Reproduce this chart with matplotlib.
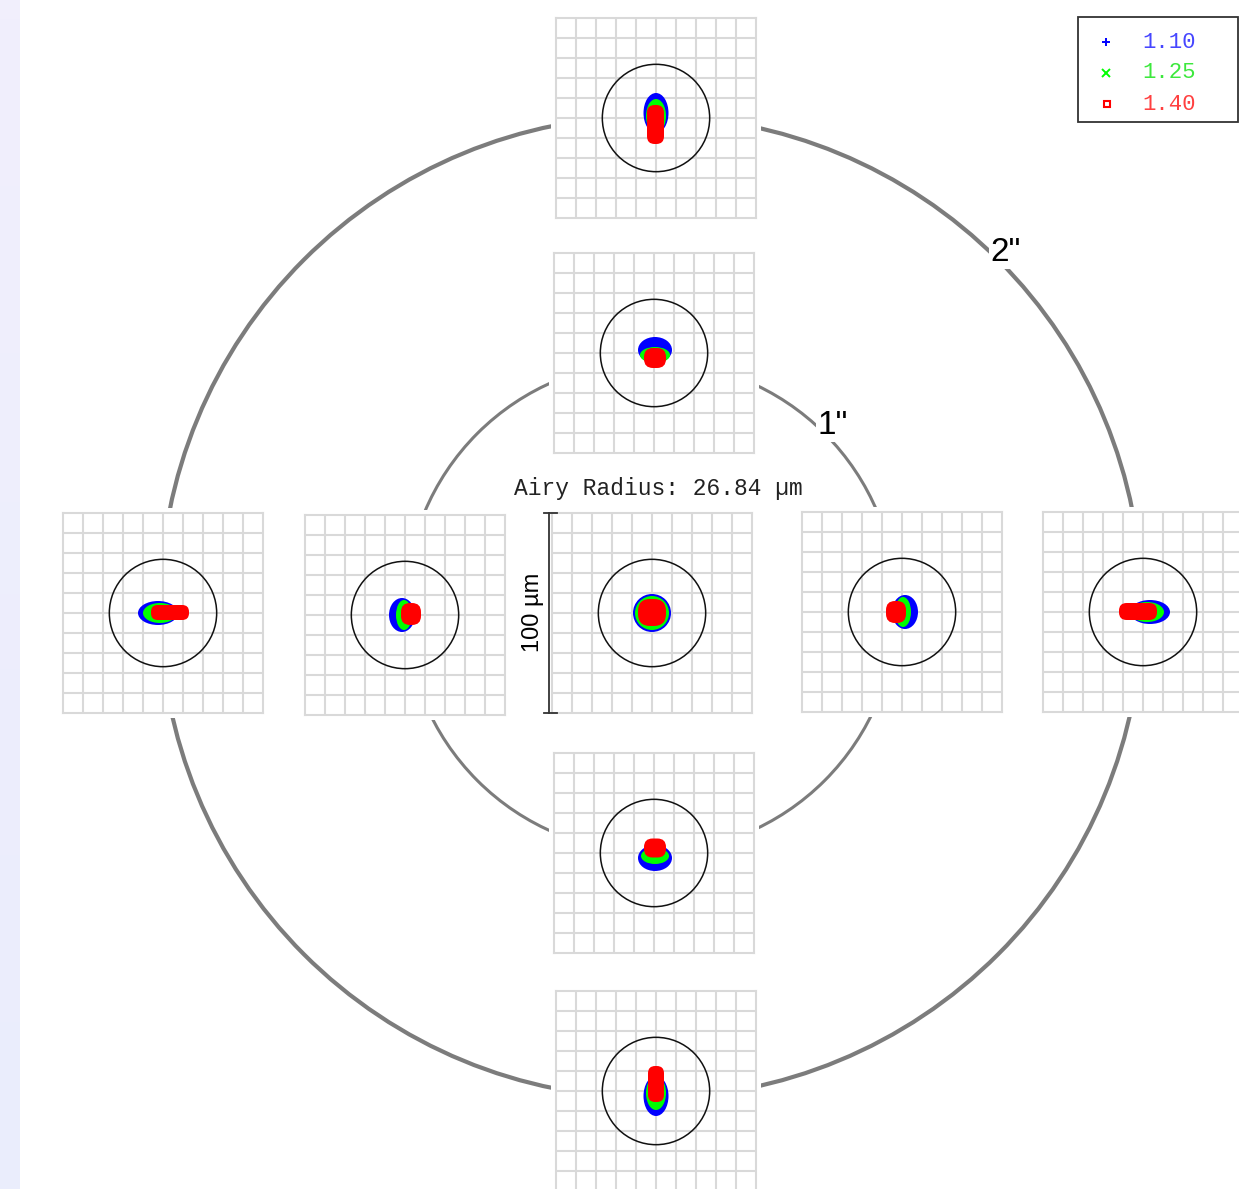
import numpy as np
import matplotlib
matplotlib.use("Agg")
import matplotlib.pyplot as plt
from matplotlib.patches import Ellipse, FancyBboxPatch, Circle, Rectangle

W, H, DPI = 1239, 1189, 100

# ---- data -------------------------------------------------------------
field_names = ["0,0", "0,+2", "0,+1", "0,-1", "0,-2", "-2,0", "-1,0", "+1,0", "+2,0"]
field_x_arcsec = [0, 0, 0, 0, 0, -2, -1, 1, 2]
field_y_arcsec = [0, 2, 1, -1, -2, 0, 0, 0, 0]
ring_radii_arcsec = [1, 2]
ring_labels = ['1"', '2"']

wavelength_labels = ["1.10", "1.25", "1.40"]
airy_radius_um = 26.84
box_size_um = 100
grid_step_um = 10

# spot footprints (µm): centroid offset and full extent per field
blue_dx = [0, 0, 0.5, 0.5, 0, -2.5, -1.5, 1.5, 3.5]
blue_dy = [0, 2.5, 1.5, -2.5, -2.5, 0, 0, 0, 0]
blue_w = [19, 12.5, 17, 17, 12.5, 20, 13, 13, 20]
blue_h = [19, 20, 13, 13, 20, 12, 17, 17, 12]

green_dx = [0, 0, 0.5, 0.5, 0, -1.5, -0.5, 0.5, 2]
green_dy = [0, 1, -1, -1.5, -1, 0, 0, 0, 0]
green_w = [17, 10, 15, 14, 10, 17, 8, 8, 17]
green_h = [17, 17, 8, 8, 17, 10, 15, 15, 10]

red_dx = [0, -0.25, 0.5, 0.5, 0, 3.5, 3, -3, -2.5]
red_dy = [0.25, -3.25, -2.5, 2.5, 3.5, 0.25, 0.5, 0, 0.25]
red_w = [14, 8.5, 11, 11, 8, 19, 10, 10, 19]
red_h = [13.5, 19.5, 10, 9.5, 18, 7.5, 11, 11, 8.5]

# ---- layout -------------------------------------------------------------
panel_centers_px = [(652, 613), (656, 118), (654, 353), (654, 853), (656, 1091),
                    (163, 613), (405, 615), (902, 612), (1143, 612)]
panel_px = 200
ring_center_px = (651, 607)
px_per_arcsec = 245.5

BLUE, GREEN, RED = "#0000ff", "#00ff00", "#ff0000"
GRID = "#d9d9d9"

fig = plt.figure(figsize=(W / DPI, H / DPI), dpi=DPI)
fig.patch.set_facecolor("white")
ax = fig.add_axes([0, 0, 1, 1])
ax.set_xlim(0, W)
ax.set_ylim(H, 0)
ax.axis("off")

# lavender strip on the left edge
grad = np.linspace(0, 1, 64)[:, None]
top_c = np.array([241, 239, 252]) / 255
bot_c = np.array([234, 237, 252]) / 255
strip = top_c[None, None, :] * (1 - grad[..., None]) + bot_c[None, None, :] * grad[..., None]
ax.imshow(strip, extent=(0, 20, H, 0), aspect="auto", zorder=0)

# field rings
for r, lw in zip(ring_radii_arcsec, [2.2, 3.0]):
    ax.add_patch(Circle(ring_center_px, r * px_per_arcsec, fill=False,
                        ec="#7c7c7c", lw=lw, zorder=1))

for r, lab in zip(ring_radii_arcsec, ring_labels):
    rr = r * px_per_arcsec + 11
    ang = np.deg2rad(45)
    ax.text(ring_center_px[0] + rr * np.cos(ang), ring_center_px[1] - rr * np.sin(ang),
            lab, fontsize=24, family="Liberation Sans", ha="center", va="center",
            zorder=4, bbox=dict(fc="white", ec="none", pad=1.0))

# white margins behind the panels
margin = 5
for cx, cy in panel_centers_px:
    ax.add_patch(Rectangle((cx - panel_px / 2 - margin, cy - panel_px / 2 - margin),
                           panel_px + 2 * margin, panel_px + 2 * margin,
                           fc="white", ec="none", zorder=2))

half = box_size_um / 2
panel_axes = []
for i, (cx, cy) in enumerate(panel_centers_px):
    left = (cx - panel_px / 2) / W
    bottom = 1 - (cy + panel_px / 2) / H
    pa = fig.add_axes([left, bottom, panel_px / W, panel_px / H])
    pa.set_xlim(-half, half)
    pa.set_ylim(-half, half)
    ticks = np.arange(-half + grid_step_um, half, grid_step_um)
    pa.set_xticks(ticks)
    pa.set_yticks(ticks)
    pa.tick_params(length=0, labelbottom=False, labelleft=False)
    pa.grid(True, color=GRID, lw=1.5)
    pa.set_axisbelow(True)
    for sp in pa.spines.values():
        sp.set_color(GRID)
        sp.set_linewidth(1.5)
    pa.add_patch(Circle((0, 0), airy_radius_um, fill=False, ec="#111111", lw=1.1, zorder=3))
    pa.add_patch(Ellipse((blue_dx[i], blue_dy[i]), blue_w[i], blue_h[i],
                         fc=BLUE, ec="none", zorder=4))
    pa.add_patch(Ellipse((green_dx[i], green_dy[i]), green_w[i], green_h[i],
                         fc=GREEN, ec="none", zorder=5))
    rs = 0.45 * min(red_w[i], red_h[i])
    pa.add_patch(FancyBboxPatch((red_dx[i] - red_w[i] / 2, red_dy[i] - red_h[i] / 2),
                                red_w[i], red_h[i],
                                boxstyle=f"round,pad=0,rounding_size={rs}",
                                fc=RED, ec="none", zorder=6))
    panel_axes.append(pa)

# scale bar beside the central panel
ca = panel_axes[0]
bar_x = -half - 1.5
ca.plot([bar_x, bar_x], [-half, half], color="#333333", lw=1.3, clip_on=False, zorder=7)
for yy in (-half, half):
    ca.plot([bar_x - 2.5, bar_x + 4], [yy, yy], color="#333333", lw=1.3,
            clip_on=False, zorder=7)
ax.text(533, 612, "100 µm", rotation=90, fontsize=17, family="Liberation Sans",
        ha="center", va="center", zorder=5)
ax.text(658, 489, f"Airy Radius: {airy_radius_um:.2f} µm", fontsize=16.5,
        family="Liberation Mono", ha="center", va="center", color="#222222", zorder=5)

# legend box
ax.add_patch(Rectangle((1078, 17), 160, 105, fc="white", ec="#333333", lw=1.3, zorder=5))
markers = ["+", "x", "s"]
colors = [BLUE, GREEN, RED]
text_colors = ["#4646ff", "#3de83d", "#ff4040"]
for k, (lab, mk, c, tc) in enumerate(zip(wavelength_labels, markers, colors, text_colors)):
    yy = 42 + 31 * k
    if mk == "s":
        ax.plot(1107, yy, marker=mk, ms=4.5, mfc="white", mec=c, mew=1.5,
                ls="none", zorder=6)
    else:
        ax.plot(1106, yy, marker=mk, ms=5.5, color=c, mew=1.4, ls="none", zorder=6)
    ax.text(1142, yy, lab, fontsize=16, family="Liberation Mono", color=tc,
            ha="left", va="center", zorder=6)

fig.savefig("out.png", dpi=DPI)
